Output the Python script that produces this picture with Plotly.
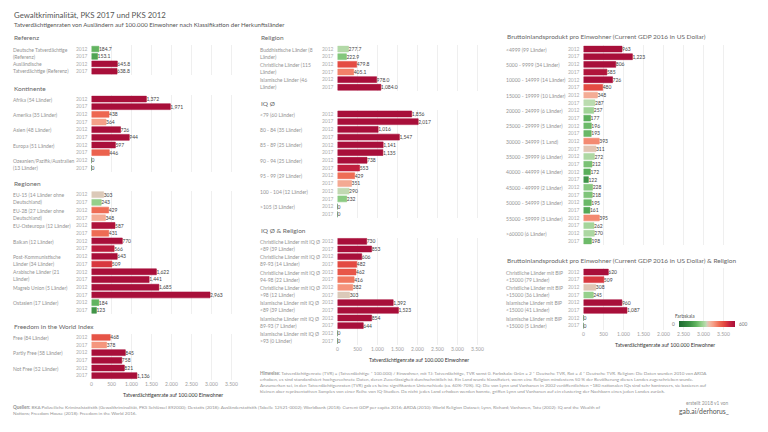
import plotly.graph_objects as go

W, H = 768, 432
YEARS = ["2012", "2017"]
FONT = "Lato"

# ---------------- data ----------------
ref_groups = ["Deutsche Tatverdächtige\n(Referenz)", "Ausländische\nTatverdächtige (Referenz)"]
ref_2012 = [184.7, 645.8]
ref_2017 = [153.1, 638.8]

kont_groups = ["Afrika (54 Länder)", "Amerika (35 Länder)", "Asien (48 Länder)",
               "Europa (51 Länder)", "Ozeanien/Pazifik/Australien\n(13 Länder)"]
kont_2012 = [1372, 438, 726, 597, 0]
kont_2017 = [1971, 364, 944, 446, 0]

reg_groups = ["EU-15 (14 Länder ohne\nDeutschland)", "EU-28 (27 Länder ohne\nDeutschland)",
              "EU-Osteuropa (12 Länder)", "Balkan (12 Länder)",
              "Post-Kommunistische\nLänder (34 Länder)", "Arabische Länder (21\nLänder)",
              "Magreb Union (5 Länder)", "Ostasien (17 Länder)"]
reg_2012 = [303, 429, 587, 770, 643, 1622, 1685, 184]
reg_2017 = [243, 348, 431, 566, 509, 1441, 2963, 123]

free_groups = ["Free (84 Länder)", "Partly Free (58 Länder)", "Not Free (52 Länder)"]
free_2012 = [468, 845, 821]
free_2017 = [378, 758, 1136]

rel_groups = ["Buddhistische Länder (8\nLänder)", "Christliche Länder (115\nLänder)",
              "Islamische Länder (46\nLänder)"]
rel_2012 = [277.7, 479.8, 978.0]
rel_2017 = [222.9, 405.1, 1084.0]

iq_groups = ["<79 (60 Länder)", "80 - 84 (35 Länder)", "85 - 89 (25 Länder)", "90 - 94 (25 Länder)",
             "95 - 99 (29 Länder)", "100 - 104 (12 Länder)", ">105 (3 Länder)"]
iq_2012 = [1856, 1016, 1141, 738, 429, 290, 0]
iq_2017 = [2017, 1547, 1135, 553, 351, 232, 0]

iqrel_groups = ["Christliche Länder mit IQ Ø\n<89 (39 Länder)", "Christliche Länder mit IQ Ø\n89-93 (14 Länder)",
                "Christliche Länder mit IQ Ø\n94-98 (22 Länder)", "Christliche Länder mit IQ Ø\n>98 (12 Länder)",
                "Islamische Länder mit IQ Ø\n<89 (39 Länder)", "Islamische Länder mit IQ Ø\n89-93 (7 Länder)",
                "Islamische Länder mit IQ Ø\n>93 (0 Länder)"]
iqrel_2012 = [730, 606, 462, 382, 1392, 854, 0]
iqrel_2017 = [853, 482, 416, 303, 1523, 644, 0]

gdp_groups = ["<4999 (99 Länder)", "5000 - 9999 (34 Länder)", "10000 - 14999 (14 Länder)",
              "15000 - 19999 (10 Länder)", "20000 - 24999 (6 Länder)", "25000 - 29999 (5 Länder)",
              "30000 - 34999 (1 Land)", "35000 - 39999 (6 Länder)", "40000 - 44999 (4 Länder)",
              "45000 - 49999 (2 Länder)", "50000 - 54999 (3 Länder)", "55000 - 59999 (3 Länder)",
              ">60000 (6 Länder)"]
gdp_2012 = [963, 806, 726, 348, 257, 196, 393, 272, 172, 228, 195, 395, 270]
gdp_2017 = [1223, 585, 480, 287, 177, 193, 311, 212, 122, 218, 161, 262, 198]

gdprel_groups = ["Christliche Länder mit BIP\n<15000 (79 Länder)", "Christliche Länder mit BIP\n>15000 (36 Länder)",
                 "Islamische Länder mit BIP\n<15000 (41 Länder)", "Islamische Länder mit BIP\n>15000 (5 Länder)"]
gdprel_2012 = [620, 308, 960, 0]
gdprel_2017 = [509, 245, 1087, 0]

x_ticks = [0, 500, 1000, 1500, 2000, 2500, 3000, 3500]
colorbar_min, colorbar_max = 0, 600

# ---------------- layout spec ----------------
# column geometry in px: (label x, bar start x, bar end x)
COLS = [(12, 91.5, 243.5), (259, 337.5, 489.5), (505, 583.5, 735.5)]
X_MAX = 3800

panels = [
    dict(h="Referenz", g=ref_groups, a=ref_2012, b=ref_2017, fmt=",.1f", c=0, top=45.3, bot=75.0, hy=37, ax=False),
    dict(h="Kontinente", g=kont_groups, a=kont_2012, b=kont_2017, fmt=",.0f", c=0, top=95.2, bot=171.8, hy=88, ax=False),
    dict(h="Regionen", g=reg_groups, a=reg_2012, b=reg_2017, fmt=",.0f", c=0, top=190.8, bot=314.2, hy=183, ax=False),
    dict(h="Freedom in the World Index", g=free_groups, a=free_2012, b=free_2017, fmt=",.0f", c=0, top=333.5, bot=379.5, hy=326, ax=True, ty=395),
    dict(h="Religion", g=rel_groups, a=rel_2012, b=rel_2017, fmt=",.1f", c=1, top=45.2, bot=91.1, hy=37.5, ax=False),
    dict(h="IQ Ø", g=iq_groups, a=iq_2012, b=iq_2017, fmt=",.0f", c=1, top=110.1, bot=218.2, hy=103, ax=False),
    dict(h="IQ Ø & Religion", g=iqrel_groups, a=iqrel_2012, b=iqrel_2017, fmt=",.0f", c=1, top=237.5, bot=344.8, hy=230, ax=True, ty=360),
    dict(h="Bruttoinlandsprodukt pro Einwohner (Current GDP 2016 in US Dollar)", g=gdp_groups, a=gdp_2012, b=gdp_2017, fmt=",.0f", c=2, top=45.2, bot=244.8, hy=36.7, ax=False),
    dict(h="Bruttoinlandsprodukt pro Einwohner (Current GDP 2016 in US Dollar) & Religion", g=gdprel_groups, a=gdprel_2012, b=gdprel_2017, fmt=",.0f", c=2, top=268.2, bot=329.5, hy=260, ax=True, ty=345),
]

colorscale = [
    [0.00, "#1d6a31"], [0.20, "#3f9347"], [0.30, "#5eb25d"], [0.40, "#92cf89"],
    [0.48, "#bcdcb0"], [0.50, "#d8cbbb"], [0.55, "#f2b8a2"], [0.62, "#f69b83"],
    [0.72, "#ee6b53"], [0.82, "#e1443f"], [0.90, "#c7233f"], [1.00, "#a80f3a"],
]


def px(x):
    return x / W


def py(y):
    return 1 - y / H


def esc(s):
    return s.replace("<", "&lt;").replace(">", "&gt;").replace("\n", "<br>")


fig = go.Figure()
annotations = []
label_font = dict(family=FONT, size=5, color="#939393")

for i, p in enumerate(panels, start=1):
    lx, x0, x1 = COLS[p["c"]]
    cats, vals, ticktext = [], [], []
    for gi, g in enumerate(p["g"]):
        for yr, v in zip(YEARS, (p["a"][gi], p["b"][gi])):
            cats.append(f"{g}|{yr}")
            vals.append(v)
            ticktext.append(yr)
    xa = "x" if i == 1 else f"x{i}"
    ya = "y" if i == 1 else f"y{i}"
    fig.add_trace(go.Bar(
        x=vals, y=cats, orientation="h", xaxis=xa, yaxis=ya,
        marker=dict(color=vals, coloraxis="coloraxis",
                    line=dict(color=vals, coloraxis="coloraxis", width=0.6)),
        texttemplate="%{x:" + p["fmt"] + "}", textposition="outside",
        textfont=dict(family=FONT, size=5, color="#444444"),
        constraintext="none", cliponaxis=False, showlegend=False,
        hoverinfo="skip",
    ))
    xkey = "xaxis" if i == 1 else f"xaxis{i}"
    ykey = "yaxis" if i == 1 else f"yaxis{i}"
    fig.layout[xkey] = dict(
        domain=[px(x0), px(x1)], anchor=ya, range=[0, X_MAX],
        tickmode="array", tickvals=x_ticks,
        ticktext=[f"{v:,}".replace(",", ".") for v in x_ticks],
        showticklabels=p["ax"], ticks="", showgrid=True, gridcolor="#efefef",
        gridwidth=0.6, zeroline=False, showline=False,
        tickfont=dict(family=FONT, size=5, color="#a0a0a0"),
    )
    fig.layout[ykey] = dict(
        domain=[py(p["bot"]), py(p["top"])], anchor=xa, type="category",
        categoryorder="array", categoryarray=cats,
        range=[len(cats) - 0.5, -0.5], autorange=False,
        tickmode="array", tickvals=cats, ticktext=ticktext, ticks="",
        showgrid=False, zeroline=False, showline=False, ticklabelstandoff=3,
        tickfont=dict(family=FONT, size=5, color="#adadad"),
    )
    # section header
    annotations.append(dict(text=p["h"], x=px(lx), y=py(p["hy"]), xref="paper", yref="paper",
                            xanchor="left", yanchor="middle", showarrow=False,
                            font=dict(family=FONT, size=6.5, color="#666666")))
    # group labels
    for gi, g in enumerate(p["g"]):
        annotations.append(dict(text=esc(g), x=px(lx), y=2 * gi, xref="paper", yref=ya,
                                xanchor="left", yanchor="top", yshift=3.4, align="left",
                                showarrow=False, borderpad=0, font=label_font))
    if p["ax"]:
        annotations.append(dict(text="Tatverdächtigenrate auf 100.000 Einwohner",
                                x=px((x0 + x1) / 2 + 5), y=py(p["ty"]), xref="paper", yref="paper",
                                xanchor="center", yanchor="middle", showarrow=False,
                                font=dict(family=FONT, size=5.2, color="#333333")))

# title & subtitle
annotations.append(dict(text="Gewaltkriminalität, PKS 2017 und PKS 2012", x=px(12), y=py(15),
                        xref="paper", yref="paper", xanchor="left", yanchor="middle", showarrow=False,
                        font=dict(family=FONT, size=7.8, color="#555555")))
annotations.append(dict(text="Tatverdächtigenraten von Ausländern auf 100.000 Einwohner nach Klassifikation der Herkunftsländer",
                        x=px(12), y=py(24), xref="paper", yref="paper", xanchor="left", yanchor="middle",
                        showarrow=False, font=dict(family=FONT, size=6.1, color="#555555")))

# color legend
annotations += [
    dict(text="Farbskala", x=px(673), y=py(316), xref="paper", yref="paper", xanchor="left",
         yanchor="middle", showarrow=False, font=dict(family=FONT, size=4.8, color="#555555")),
    dict(text="0", x=px(677), y=py(324), xref="paper", yref="paper", xanchor="right",
         yanchor="middle", showarrow=False, font=dict(family=FONT, size=4.8, color="#777777")),
    dict(text="600", x=px(737), y=py(324), xref="paper", yref="paper", xanchor="left",
         yanchor="middle", showarrow=False, font=dict(family=FONT, size=4.8, color="#777777")),
]

hinweise = ("<b>Hinweise:</b> Tatverdächtigenrate (TVR) = (Tatverdächtige * 100.000) / Einwohner, mit TJ: Tatverdächtige, TVR sonst 0. "
            "Farbskala: Grün = 2 * Deutsche TVR, Rot = 4 * Deutsche TVR. Religion: Die Daten wurden 2010 von ARDA<br>"
            "erhoben, es sind standardisiert hochgerechnete Daten, deren Zuverlässigkeit durchschnittlich ist. Ein Land wurde klassifiziert, "
            "wenn eine Religion mindestens 50 % der Bevölkerung dieses Landes zugeschrieben wurde.<br>"
            "Anzumerken sei, in den Tatverdächtigenraten (TVR) gab es keine signifikanten Unterschiede (ca. 60%-70%). IQ: Die von Lynn und "
            "Vanhanen in 2002 veröffentlichten ~180 nationalen IQs sind sehr kontrovers, sie basieren auf<br>"
            "kleinen aber repräsentativen Samples von einer Reihe von IQ-Studien. Da nicht jedes Land erhoben werden konnte, griffen Lynn "
            "und Vanhanen auf ein clustering der Nachbarn eines jeden Landes zurück.")
annotations.append(dict(text=hinweise, x=px(259), y=py(368.5), xref="paper", yref="paper", xanchor="left",
                        yanchor="top", align="left", showarrow=False, borderpad=0,
                        font=dict(family=FONT, size=4.6, color="#939393")))

quellen = ("<b>Quellen:</b> BKA Polizeiliche Kriminalstatistik (Gewaltkriminalität, PKS Schlüssel 892000); Destatis (2018): "
           "Ausländerstatistik (Tabelle 12521-0002); Worldbank (2018): Current GDP per capita 2016; ARDA (2010): World Religion Dataset; "
           "Lynn, Richard; Vanhanen, Tatu (2002): IQ and the Wealth of<br>Nations; Freedom House (2018): Freedom in the World 2016.")
annotations.append(dict(text=quellen, x=px(12), y=py(402.5), xref="paper", yref="paper", xanchor="left",
                        yanchor="top", align="left", showarrow=False, borderpad=0,
                        font=dict(family=FONT, size=4.6, color="#939393")))

annotations.append(dict(text="erstellt 2018 v1 von", x=px(731), y=py(402.5), xref="paper", yref="paper",
                        xanchor="right", yanchor="middle", showarrow=False,
                        font=dict(family=FONT, size=4.8, color="#939393")))
annotations.append(dict(text="gab.ai/derhorus_", x=px(731), y=py(410.5), xref="paper", yref="paper",
                        xanchor="right", yanchor="middle", showarrow=False,
                        font=dict(family=FONT, size=6.8, color="#555555")))

fig.update_layout(
    width=W, height=H, autosize=False,
    margin=dict(l=0, r=0, t=0, b=0),
    paper_bgcolor="white", plot_bgcolor="white",
    bargap=0.24, showlegend=False,
    font=dict(family=FONT, size=5, color="#555555"),
    coloraxis=dict(
        cmin=colorbar_min, cmax=colorbar_max, colorscale=colorscale,
        colorbar=dict(orientation="h", x=px(707), xanchor="center", y=py(324), yanchor="middle",
                      len=56, lenmode="pixels", thickness=6, thicknessmode="pixels",
                      showticklabels=False, ticks="", outlinewidth=0, xpad=0, ypad=0),
    ),
    annotations=annotations,
)

fig.write_html("out.html", config={"displayModeBar": False},
               post_script="document.body.style.margin='0px';document.body.style.overflow='hidden';")
